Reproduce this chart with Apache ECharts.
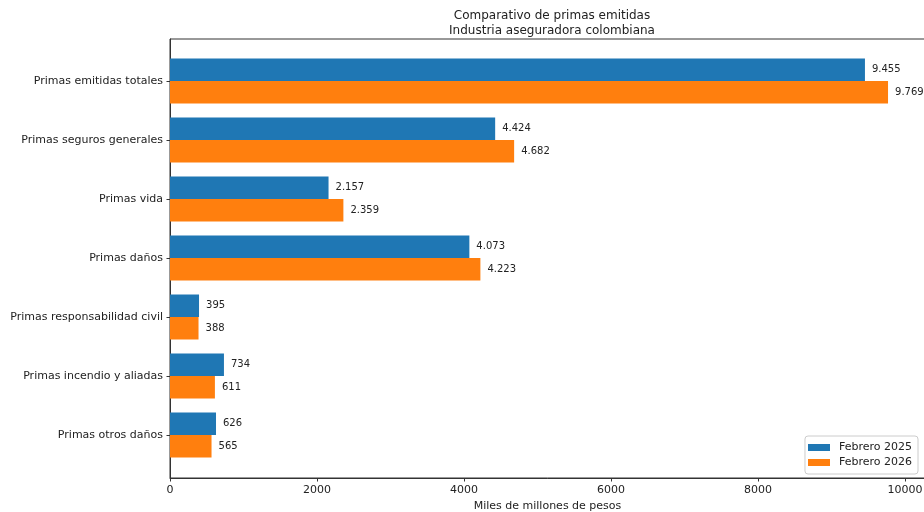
<!DOCTYPE html>
<html>
<head>
<meta charset="utf-8">
<script src="https://cdn.jsdelivr.net/npm/echarts@6/dist/echarts.min.js"></script>
<style>html,body{margin:0;padding:0;background:#fff}#c{width:924px;height:512px}</style>
</head>
<body>
<div id="c"></div>
<script>
const categories = ["Primas emitidas totales","Primas seguros generales","Primas vida","Primas daños","Primas responsabilidad civil","Primas incendio y aliadas","Primas otros daños"];
const feb2025 = [9455, 4424, 2157, 4073, 395, 734, 626];
const feb2026 = [9769, 4682, 2359, 4223, 388, 611, 565];
const seriesNames = ["Febrero 2025", "Febrero 2026"];
const xTicks = [0, 2000, 4000, 6000, 8000, 10000];
const xMax = 10272;

const fmt = v => String(v).replace(/\B(?=(\d{3})+(?!\d))/g, '.');
const FONT = 'DejaVu Sans';
const TXT = '#222';

const chart = echarts.init(document.getElementById('c'), null, {renderer: 'canvas'});
const labelCfg = {show: true, position: 'right', distance: 7, fontFamily: FONT, fontSize: 10, color: TXT, formatter: p => fmt(p.value)};
chart.setOption({
  animation: false,
  backgroundColor: '#fff',
  textStyle: {fontFamily: FONT},
  title: {
    text: 'Comparativo de primas emitidas\nIndustria aseguradora colombiana',
    left: 547, top: 3, textAlign: 'center',
    textStyle: {fontFamily: FONT, fontSize: 12, fontWeight: 'normal', color: TXT, lineHeight: 15}
  },
  legend: {
    data: seriesNames,
    orient: 'vertical', right: 6, bottom: 38,
    padding: [6, 6, 6, 3],
    itemWidth: 22, itemHeight: 7, itemGap: 4,
    borderColor: '#cccccc', borderWidth: 1, borderRadius: 3, backgroundColor: '#fff',
    icon: 'rect',
    textStyle: {fontFamily: FONT, fontSize: 11, color: TXT, padding: [0, 0, 0, 4]}
  },
  grid: [
    {left: 170, right: -1, top: 51.5, bottom: 47.5, outerBoundsMode: 'none', containLabel: false},
    {left: 170, right: -1, top: 39, bottom: 34, outerBoundsMode: 'none', containLabel: false, show: true, borderColor: '#333', borderWidth: 1, z: 0}
  ],
  xAxis: [
    {type: 'value', gridIndex: 0, min: 0, max: xMax, show: false},
    {type: 'value', gridIndex: 1, min: 0, max: xMax, interval: 2000,
     axisLine: {show: true, onZero: false, lineStyle: {color: '#333'}},
     axisTick: {show: true, length: 3.5, customValues: xTicks, lineStyle: {color: '#333'}},
     axisLabel: {show: true, customValues: xTicks, formatter: v => String(v), fontFamily: FONT, fontSize: 11, color: TXT, margin: 7},
     splitLine: {show: false},
     name: 'Miles de millones de pesos', nameLocation: 'middle', nameGap: 22,
     nameTextStyle: {fontFamily: FONT, fontSize: 11, color: TXT}}
  ],
  yAxis: [
    {type: 'category', gridIndex: 0, data: categories, inverse: true,
     axisLine: {show: false},
     axisTick: {show: true, alignWithLabel: true, length: 3.5, lineStyle: {color: '#333'}},
     axisLabel: {fontFamily: FONT, fontSize: 11, color: TXT, margin: 7}},
    {type: 'value', gridIndex: 1, min: 0, max: 1, show: true,
     axisLine: {show: true, lineStyle: {color: '#333'}}, axisTick: {show: false}, axisLabel: {show: false}, splitLine: {show: false}}
  ],
  series: [
    {name: seriesNames[0], type: 'bar', xAxisIndex: 0, yAxisIndex: 0, data: feb2025, barWidth: 22.5, barGap: '0%',
     itemStyle: {color: '#1f77b4'}, label: labelCfg, z: 3},
    {name: seriesNames[1], type: 'bar', xAxisIndex: 0, yAxisIndex: 0, data: feb2026, barWidth: 22.5, barGap: '0%',
     itemStyle: {color: '#ff7f0e'}, label: labelCfg, z: 3}
  ]
});
</script>
</body>
</html>
